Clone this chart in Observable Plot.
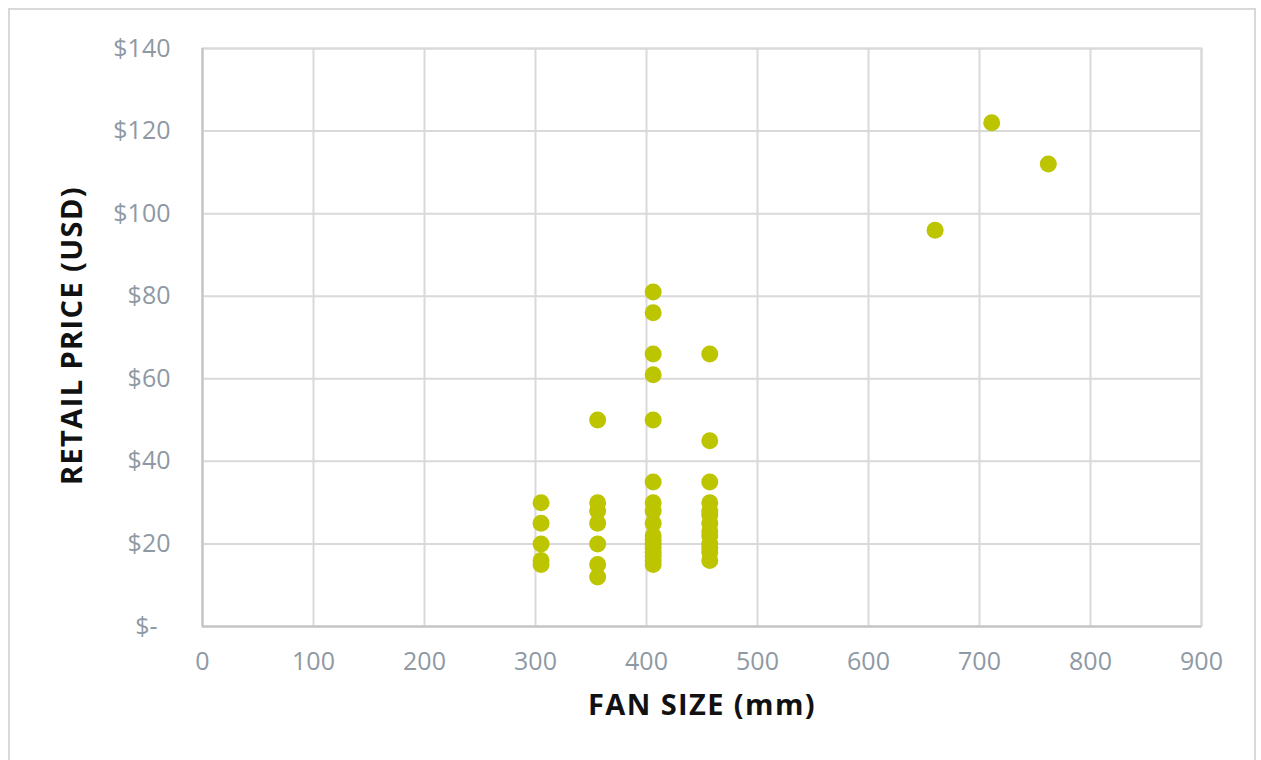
<!DOCTYPE html>
<html>
<head>
<meta charset="utf-8">
<script src="https://cdn.jsdelivr.net/npm/d3@7"></script>
<script src="https://cdn.jsdelivr.net/npm/@observablehq/plot@0.6"></script>
<style>
  html, body { margin: 0; padding: 0; background: #fff; }
  #frame { position: absolute; left: 8px; top: 8px; width: 1248px; height: 780px; border: 2px solid #d9d9d9; box-sizing: border-box; }
  #chart { position: absolute; left: 0; top: 0; }
  #chart svg { overflow: visible; }
</style>
</head>
<body>
<div id="frame"></div>
<div id="chart"></div>
<script>
// Fan sizes (mm) and the prices (USD) observed at each size
const fanSizes = [305, 356, 406, 457, 660, 711, 762];
const prices305 = [30, 25, 20, 16, 15];
const prices356 = [50, 30, 28, 25, 20, 15, 12];
const prices406 = [81, 76, 66, 61, 50, 35, 30, 28, 25, 22, 21, 20, 19, 18, 17, 16, 15];
const prices457 = [66, 45, 35, 30, 28, 27, 25, 23, 22, 20, 19, 18, 16];
const prices660 = [96];
const prices711 = [122];
const prices762 = [112];
const priceGroups = [prices305, prices356, prices406, prices457, prices660, prices711, prices762];

const xTicks = [0, 100, 200, 300, 400, 500, 600, 700, 800, 900];
const yTicks = [0, 20, 40, 60, 80, 100, 120, 140];
const xTitle = "FAN SIZE (mm)";
const yTitle = "RETAIL PRICE (USD)";

const data = fanSizes.flatMap((s, i) => priceGroups[i].map(p => ({size: s, price: p})));

const tickFont = "'Open Sans', 'Noto Sans', sans-serif";
const chart = Plot.plot({
  width: 1261,
  height: 760,
  marginLeft: 202,
  marginRight: 60,
  marginTop: 48,
  marginBottom: 134,
  style: {fontFamily: tickFont, background: "transparent"},
  x: {domain: [0, 900]},
  y: {domain: [0, 140]},
  marks: [
    Plot.gridX(xTicks, {stroke: "#d9d9d9", strokeOpacity: 1, strokeWidth: 2}),
    Plot.gridY(yTicks, {stroke: "#d9d9d9", strokeOpacity: 1, strokeWidth: 2}),
    Plot.frame({stroke: "#d9d9d9", strokeWidth: 2}),
    Plot.ruleX([0], {stroke: "#c4c4c4", strokeWidth: 2}),
    Plot.ruleY([0], {stroke: "#c4c4c4", strokeWidth: 2}),
    Plot.axisX(xTicks, {tickSize: 0, tickPadding: 26, fontSize: 25, fill: "#8e99a4", label: null, tickFormat: d => String(d)}),
    Plot.axisY(yTicks, {tickSize: 0, tickPadding: 32, fontSize: 25, fill: "#8e99a4", label: null, tickFormat: d => d === 0 ? "$-\u00a0\u00a0" : "$" + d}),
    Plot.dot(data, {x: "size", y: "price", r: 8.5, fill: "#bdc500", stroke: "none"}),
    Plot.text([xTitle], {frameAnchor: "bottom", lineAnchor: "middle", textAnchor: "middle", dy: 79, text: d => d, fontSize: 29, fontWeight: "bold", fill: "#111", fontFamily: tickFont}),
    Plot.text([yTitle], {frameAnchor: "left", lineAnchor: "middle", textAnchor: "middle", dx: -130, dy: -2, rotate: -90, text: d => d, fontSize: 29, fontWeight: "bold", fill: "#111", fontFamily: tickFont})
  ]
});
d3.select(chart).selectAll("text")
  .filter(function() { return this.textContent === xTitle || this.textContent === yTitle; })
  .attr("letter-spacing", "1.4px")
  .style("letter-spacing", "1.4px");
document.getElementById("chart").appendChild(chart);
</script>
</body>
</html>
